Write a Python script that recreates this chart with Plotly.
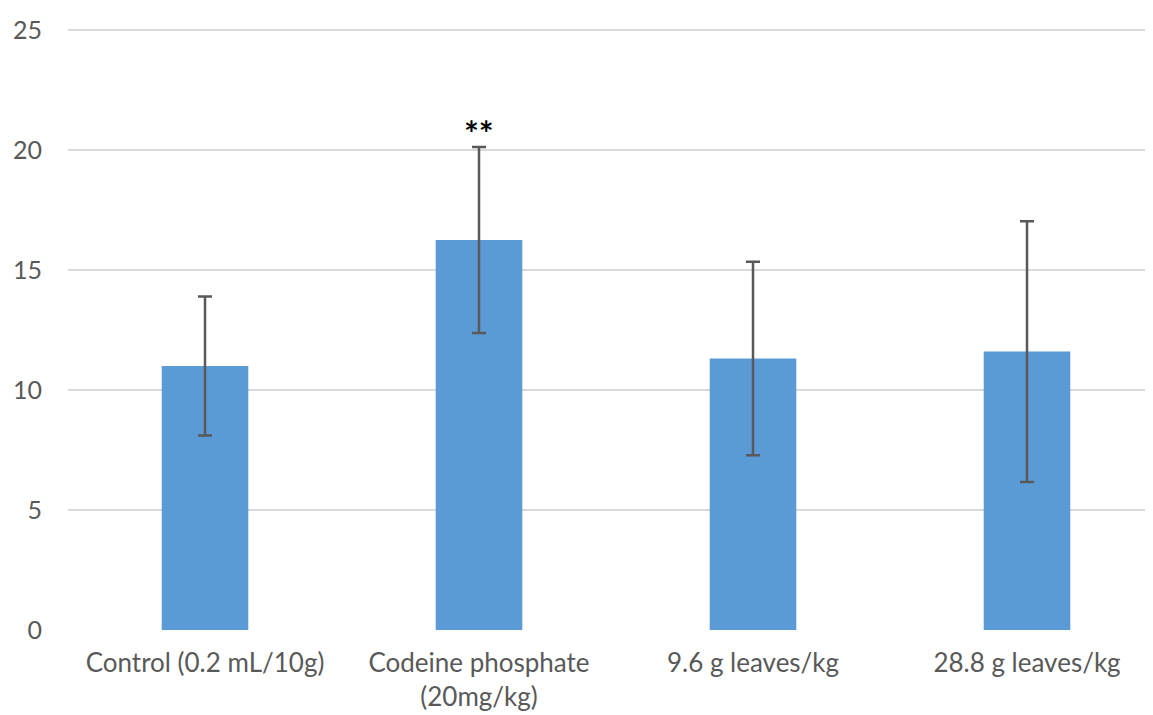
import plotly.graph_objects as go

categories = ["Control (0.2 mL/10g)", "Codeine phosphate<br>(20mg/kg)",
              "9.6 g leaves/kg", "28.8 g leaves/kg"]
values = [11.0, 16.25, 11.31, 11.6]
errors = [2.9, 3.87, 4.03, 5.43]
y_ticks = [0, 5, 10, 15, 20, 25]
sig_labels = ["", "**", "", ""]
sig_y = [None, 20.75, None, None]

font_family = "Lato, Open Sans, DejaVu Sans, sans-serif"

fig = go.Figure()
fig.add_trace(go.Bar(
    x=categories, y=values,
    marker=dict(color="#5b9bd5", line=dict(width=0)),
    error_y=dict(type="data", array=errors, visible=True,
                 color="#595959", thickness=2.5, width=7),
    showlegend=False,
))

for c, s, yy in zip(categories, sig_labels, sig_y):
    if s:
        fig.add_annotation(x=c, y=yy, text="<b>" + s + "</b>", showarrow=False,
                           font=dict(size=35, color="#000000", family=font_family),
                           xanchor="center", yanchor="middle")

fig.update_layout(
    width=1153, height=715,
    margin=dict(l=60, r=0, t=18, b=93),
    plot_bgcolor="white", paper_bgcolor="white",
    bargap=0.684,
    font=dict(family=font_family, size=26, color="#595959"),
    xaxis=dict(range=[-0.5, 3.489], showgrid=False, zeroline=False,
               showline=False, ticks="outside", ticklen=10, tickcolor="rgba(0,0,0,0)",
               tickfont=dict(size=26, color="#595959"),
               fixedrange=True),
    yaxis=dict(range=[0, 25.1667], tickvals=y_ticks, showgrid=True,
               gridcolor="#d9d9d9", gridwidth=2, zeroline=False,
               showline=False, ticks="outside", ticklen=20, tickcolor="rgba(0,0,0,0)",
               tickfont=dict(size=25, color="#595959")),
)

fig.write_html("out.html")
